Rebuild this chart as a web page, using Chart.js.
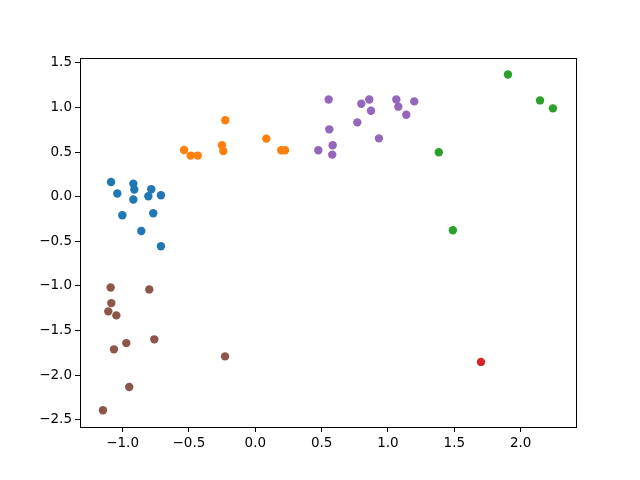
<!DOCTYPE html>
<html>
<head>
<meta charset="utf-8">
<script src="https://cdn.jsdelivr.net/npm/chart.js@4.4.0/dist/chart.umd.min.js"></script>
<style>
  body { margin: 0; background: #fff; }
</style>
</head>
<body>
<canvas id="grafico" width="640" height="480"></canvas>
<script>
// datos, un par de arrays por grupo
const azulX = [-1.087, -1.04, -0.919, -0.912, -0.919, -0.784, -0.806, -0.711, -1.002, -0.769, -0.859, -0.711]
const azulY = [0.164, 0.035, 0.146, 0.08, -0.032, 0.083, 0.004, 0.016, -0.208, -0.186, -0.384, -0.555]
const naranjaX = [-0.226, 0.083, -0.537, -0.487, -0.434, -0.251, -0.241, 0.196, 0.224]
const naranjaY = [0.855, 0.65, 0.522, 0.46, 0.46, 0.575, 0.511, 0.519, 0.519]
const verdeX = [1.904, 2.146, 2.243, 1.383, 1.489]
const verdeY = [1.369, 1.078, 0.989, 0.497, -0.376]
const rojoX = [1.701]
const rojoY = [-1.851]
const moradoX = [0.553, 0.859, 0.799, 0.872, 1.063, 1.078, 1.198, 1.138, 0.769, 0.558, 0.932, 0.583, 0.475, 0.58]
const moradoY = [1.089, 1.089, 1.041, 0.963, 1.089, 1.008, 1.067, 0.918, 0.832, 0.754, 0.653, 0.575, 0.519, 0.471]
const cafeX = [-1.09, -0.799, -1.085, -1.108, -1.047, -0.761, -0.972, -1.065, -0.228, -0.95, -1.148]
const cafeY = [-1.017, -1.039, -1.192, -1.285, -1.33, -1.598, -1.64, -1.71, -1.789, -2.132, -2.393]

const ticksX = [-1.0, -0.5, 0.0, 0.5, 1.0, 1.5, 2.0]
const ticksY = [1.5, 1.0, 0.5, 0.0, -0.5, -1.0, -1.5, -2.0, -2.5]

function puntos(xs, ys) {
    return xs.map((x, i) => ({ x: x, y: ys[i] }))
}

function serie(xs, ys, color) {
    return {
        data: puntos(xs, ys),
        backgroundColor: color,
        borderColor: color,
        borderWidth: 0,
        pointRadius: 4.2,
        pointHoverRadius: 4.2
    }
}

function etiqueta(v) {
    return v.toFixed(1).replace('-', '\u2212')
}

// marco completo alrededor del area del grafico
const marco = {
    id: 'marco',
    afterDraw(chart) {
        const a = chart.chartArea
        const ctx = chart.ctx
        ctx.save()
        ctx.strokeStyle = '#000'
        ctx.lineWidth = 1
        ctx.strokeRect(Math.round(a.left) + 0.5, Math.round(a.top) + 0.5, Math.round(a.right - a.left), Math.round(a.bottom - a.top))
        ctx.restore()
    }
}

const fuente = { family: 'DejaVu Sans', size: 13.5 }

const config = {
    type: 'scatter',
    data: {
        datasets: [
            serie(azulX, azulY, '#1f77b4'),
            serie(naranjaX, naranjaY, '#ff7f0e'),
            serie(verdeX, verdeY, '#2ca02c'),
            serie(rojoX, rojoY, '#d62728'),
            serie(moradoX, moradoY, '#9467bd'),
            serie(cafeX, cafeY, '#8c564b')
        ]
    },
    options: {
        responsive: false,
        animation: false,
        layout: { padding: { left: 0, top: 58, right: 64, bottom: 0 } },
        plugins: {
            legend: { display: false },
            tooltip: { enabled: false }
        },
        scales: {
            x: {
                type: 'linear',
                min: -1.321,
                max: 2.417,
                afterBuildTicks: s => { s.ticks = ticksX.map(v => ({ value: v })) },
                afterFit: s => { s.height = 53 },
                grid: { drawOnChartArea: false, tickLength: 5, color: '#000' },
                border: { color: '#000' },
                ticks: { color: '#000', font: fuente, padding: 3, maxRotation: 0, callback: v => etiqueta(v) }
            },
            y: {
                type: 'linear',
                min: -2.58,
                max: 1.553,
                afterBuildTicks: s => { s.ticks = ticksY.map(v => ({ value: v })) },
                afterFit: s => { s.width = 80 },
                grid: { drawOnChartArea: false, tickLength: 5, color: '#000' },
                border: { color: '#000' },
                ticks: { color: '#000', font: fuente, padding: 3, callback: v => etiqueta(v) }
            }
        }
    },
    plugins: [marco]
}

new Chart(document.getElementById('grafico'), config)
</script>
</body>
</html>
